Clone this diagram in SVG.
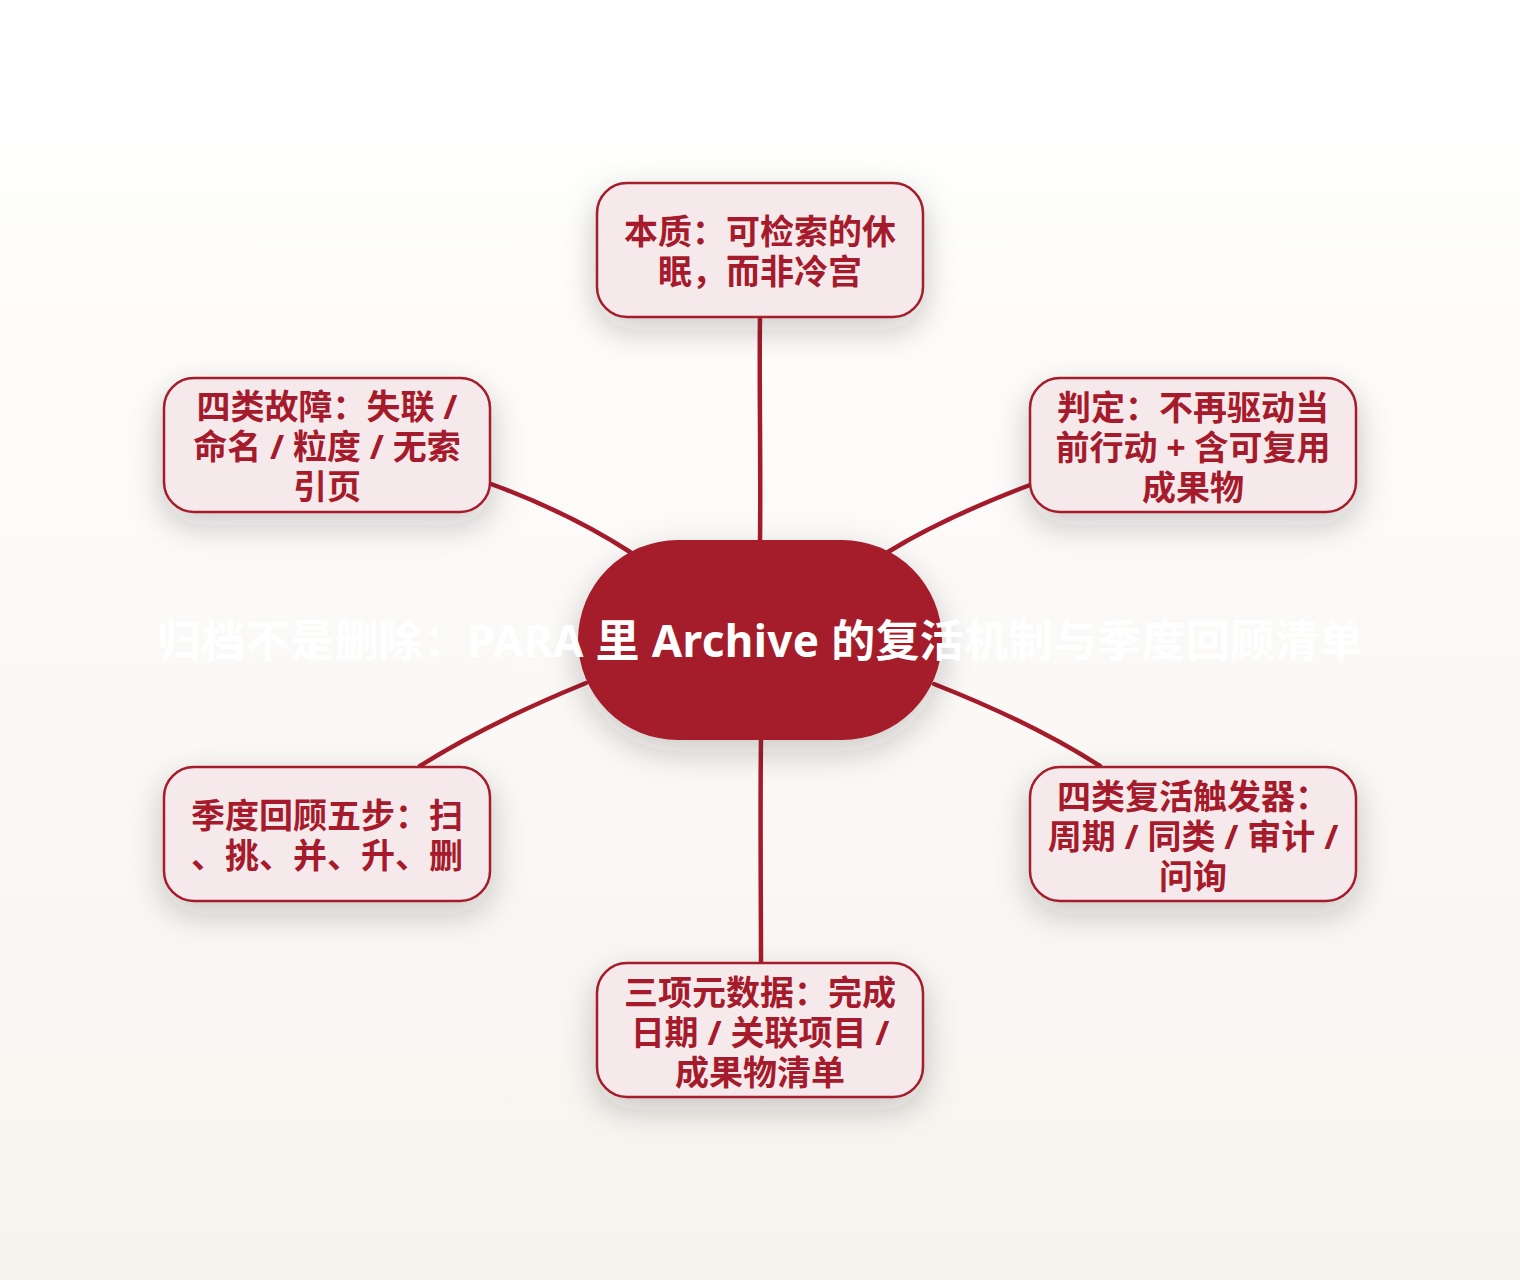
<svg xmlns="http://www.w3.org/2000/svg" width="1520" height="1280" viewBox="0 0 1520 1280">
  <defs>
    <linearGradient id="bg" x1="0" y1="0" x2="0" y2="1">
      <stop offset="0" stop-color="#ffffff"/>
      <stop offset="1" stop-color="#f7f4ef"/>
    </linearGradient>
    <filter id="shadow" x="-30%" y="-30%" width="160%" height="190%">
      <feDropShadow dx="0" dy="12" stdDeviation="16" flood-color="#2a2520" flood-opacity="0.22"/>
    </filter>
    <style>
      .conn { fill: none; stroke: #a51b2b; stroke-width: 4.5; stroke-linecap: round; }
      .box { fill: #f5e9ec; stroke: #a51b2b; stroke-width: 2.5; }
      .lbl { font-family: "Noto Sans", "Noto Sans CJK SC", sans-serif; font-weight: bold; font-size: 34px; fill: #a51b2b; text-anchor: middle; dominant-baseline: central; }
      .title { font-family: "Noto Sans", "Noto Sans CJK SC", sans-serif; font-weight: bold; font-size: 44px; fill: #ffffff; text-anchor: middle; dominant-baseline: central; }
    </style>
  </defs>
  <rect x="0" y="0" width="1520" height="1280" fill="url(#bg)"/>

  <g id="connectors">
    <path class="conn" d="M760,317 C759,380 761,470 760,541"/>
    <path class="conn" d="M491,484 C540,502 590,526 630,552"/>
    <path class="conn" d="M1030,485 C980,504 930,526 888,552"/>
    <path class="conn" d="M586,683 C530,706 470,734 420,766"/>
    <path class="conn" d="M934,684 C990,706 1050,734 1100,766"/>
    <path class="conn" d="M761,740 C760,810 761,900 761,963"/>
  </g>

  <g id="center">
    <rect x="578" y="540" width="364" height="200" rx="100" ry="100" fill="#a51b2b" filter="url(#shadow)"/>
    <text class="title" x="760" y="640" textLength="1206" lengthAdjust="spacing">归档不是删除：PARA 里 Archive 的复活机制与季度回顾清单</text>
  </g>

  <g id="node-top">
    <rect class="box" x="597" y="183" width="326" height="134" rx="30" filter="url(#shadow)"/>
    <text class="lbl"><tspan x="760" y="231">本质：可检索的休</tspan><tspan x="760" y="271">眠，而非冷宫</tspan></text>
  </g>

  <g id="node-top-left">
    <rect class="box" x="164" y="378" width="326" height="134" rx="30" filter="url(#shadow)"/>
    <text class="lbl"><tspan x="327" y="406">四类故障：失联 /</tspan><tspan x="327" y="446">命名 / 粒度 / 无索</tspan><tspan x="327" y="486">引页</tspan></text>
  </g>

  <g id="node-top-right">
    <rect class="box" x="1030" y="378" width="326" height="134" rx="30" filter="url(#shadow)"/>
    <text class="lbl"><tspan x="1193" y="407">判定：不再驱动当</tspan><tspan x="1193" y="447">前行动 + 含可复用</tspan><tspan x="1193" y="487">成果物</tspan></text>
  </g>

  <g id="node-bottom-left">
    <rect class="box" x="164" y="767" width="326" height="134" rx="30" filter="url(#shadow)"/>
    <text class="lbl"><tspan x="327" y="815">季度回顾五步：扫</tspan><tspan x="327" y="855">、挑、并、升、删</tspan></text>
  </g>

  <g id="node-bottom-right">
    <rect class="box" x="1030" y="767" width="326" height="134" rx="30" filter="url(#shadow)"/>
    <text class="lbl"><tspan x="1193" y="796">四类复活触发器：</tspan><tspan x="1193" y="836">周期 / 同类 / 审计 /</tspan><tspan x="1193" y="876">问询</tspan></text>
  </g>

  <g id="node-bottom">
    <rect class="box" x="597" y="963" width="326" height="134" rx="30" filter="url(#shadow)"/>
    <text class="lbl"><tspan x="760" y="992">三项元数据：完成</tspan><tspan x="760" y="1032">日期 / 关联项目 /</tspan><tspan x="760" y="1072">成果物清单</tspan></text>
  </g>
</svg>
